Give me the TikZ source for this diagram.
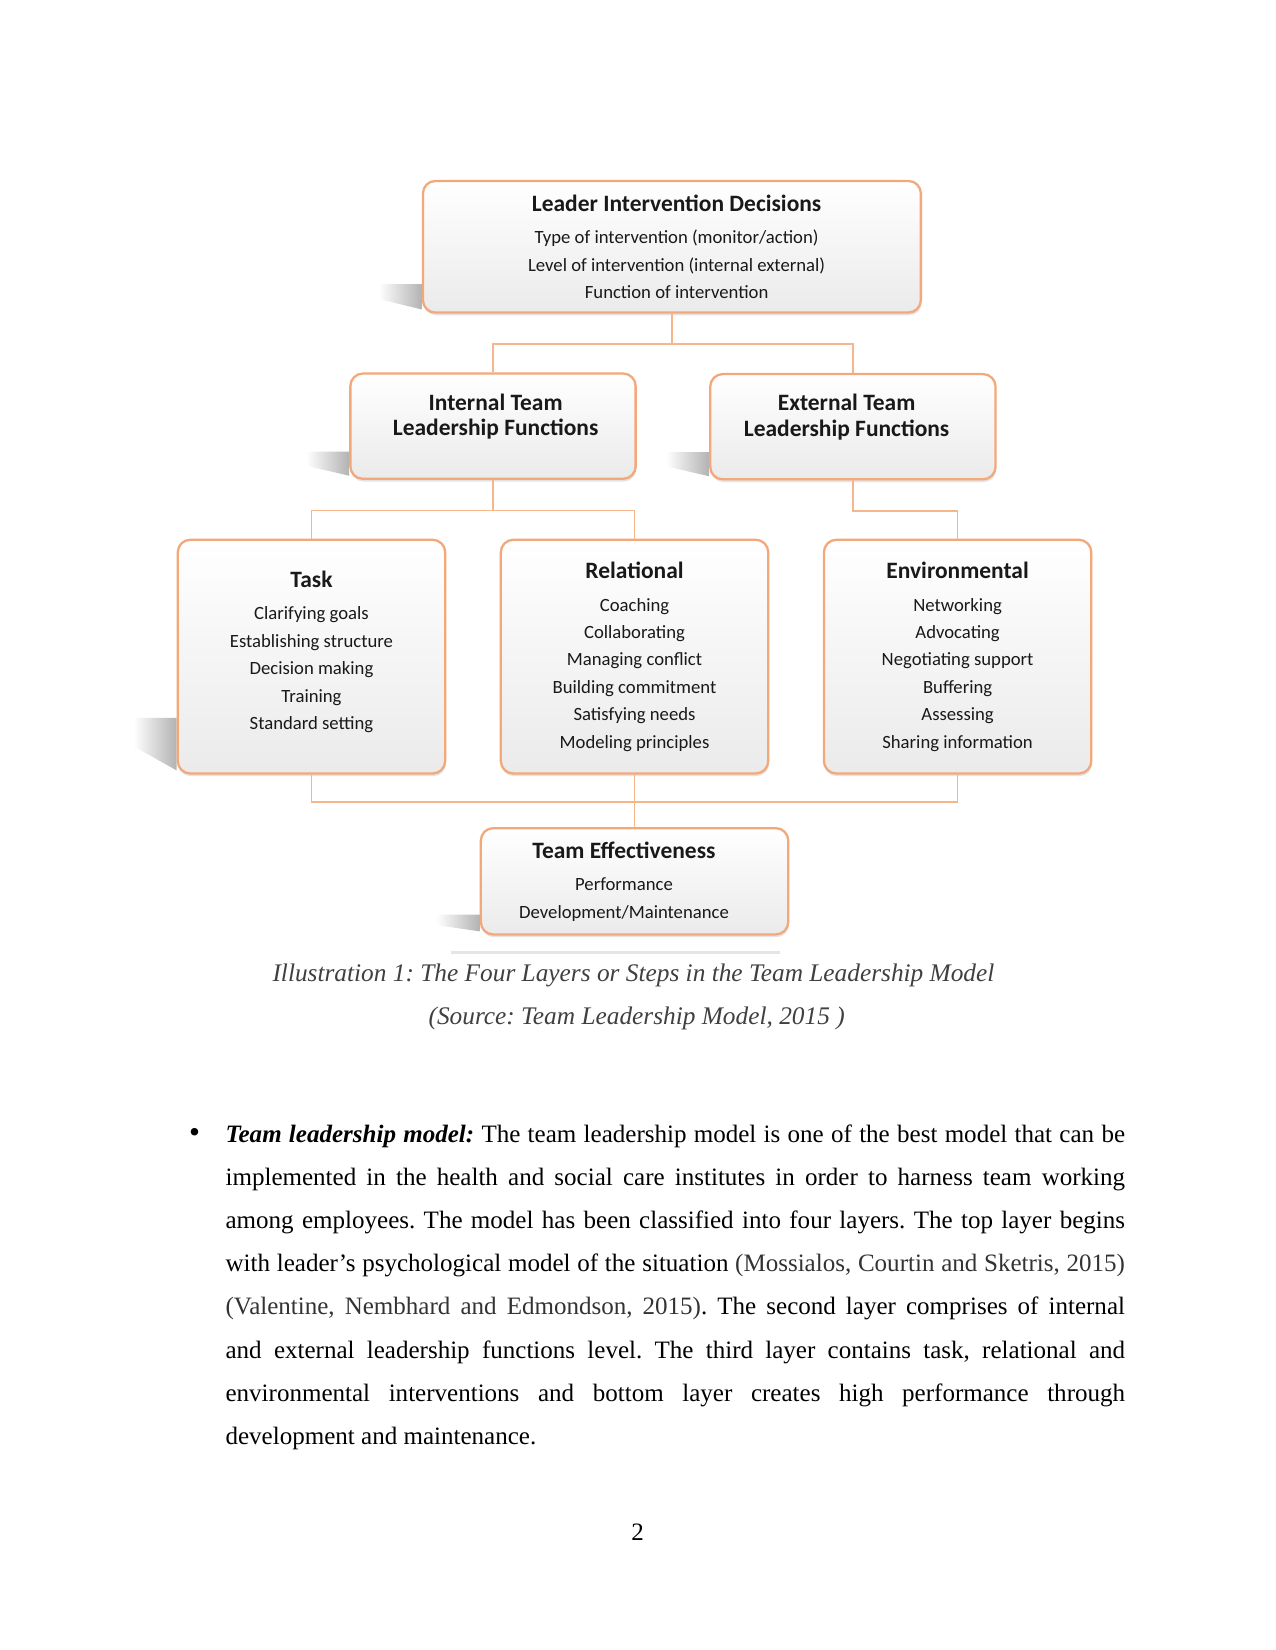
\documentclass[tikz,border=0pt]{standalone}
\usepackage{fontspec}
\setmainfont{Liberation Serif}
\newfontfamily\smartfont{Carlito}
\usepackage{tikz}
\usetikzlibrary{calc, shadows, backgrounds}

\definecolor{boxline}{RGB}{244,168,122}
\definecolor{linkline}{RGB}{246,182,140}
\newcommand\boxhead[1]{{\fontsize{11.3}{13.2}\selectfont\bfseries #1}}

\begin{document}
\begin{tikzpicture}[x=0.0178135cm, y=-0.0178135cm,
  layerbox/.style={draw=boxline, line width=1.1pt, rounded corners=6pt,
    top color=white, bottom color=black!8, inner sep=0pt,
    drop shadow={shadow xshift=0.3pt, shadow yshift=-1.3pt, opacity=0.22}},
  boxtext/.style={align=center, inner sep=0pt, text=black!90,
    font=\smartfont\fontsize{9}{13.2}\selectfont},
  twoline/.style={boxtext, font=\smartfont\fontsize{11.3}{12.2}\selectfont\bfseries},
  link/.style={draw=linkline, line width=0.8pt},
  bodyfont/.style={font=\fontsize{12.05}{20.78}\selectfont}]
  \useasboundingbox (0,0) rectangle (1212,1568);

  % Layer 1
  \node[layerbox, minimum width=8.426cm, minimum height=2.227cm] (lid) at (638.5,234.5) {};
  \node[boxtext] (lid-txt) at ($(lid)+(4.5,0)$)
    {\boxhead{Leader Intervention Decisions}\\[2.5pt]
     Type of intervention (monitor/action)\\
     Level of intervention (internal external)\\
     Function of intervention};

  % Layer 2
  \node[layerbox, minimum width=4.827cm, minimum height=1.781cm] (itlf) at (468.5,405) {};
  \node[twoline] (itlf-txt) at ($(itlf)+(2.5,-9)$) {Internal Team\\Leadership Functions};
  \node[layerbox, minimum width=4.827cm, minimum height=1.781cm] (etlf) at (810.5,405.5) {};
  \node[twoline] (etlf-txt) at ($(etlf)+(-6,-9)$) {External Team\\Leadership Functions};

  % Layer 3
  \node[layerbox, minimum width=4.525cm, minimum height=3.955cm] (task) at (296,624) {};
  \node[boxtext] (task-txt) at ($(task)+(0,-4.5)$)
    {\boxhead{Task}\\[2.5pt]
     Clarifying goals\\ Establishing structure\\ Decision making\\
     Training\\ Standard setting};
  \node[layerbox, minimum width=4.525cm, minimum height=3.955cm] (rel) at (603,624) {};
  \node[boxtext] (rel-txt) at (rel)
    {\boxhead{Relational}\\[2.5pt]
     Coaching\\ Collaborating\\ Managing conflict\\ Building commitment\\
     Satisfying needs\\ Modeling principles};
  \node[layerbox, minimum width=4.525cm, minimum height=3.955cm] (env) at (910,624) {};
  \node[boxtext] (env-txt) at (env)
    {\boxhead{Environmental}\\[2.5pt]
     Networking\\ Advocating\\ Negotiating support\\ Buffering\\
     Assessing\\ Sharing information};

  % Layer 4
  \node[layerbox, minimum width=5.202cm, minimum height=1.799cm] (teff) at (603,837.5) {};
  \node[boxtext] (teff-txt) at ($(teff)+(-10,0)$)
    {\boxhead{Team Effectiveness}\\[2.5pt]
     Performance\\ Development/Maintenance};

  % Connectors
  \draw[link] (lid.south) -- ++(0,29) -| (itlf.north);
  \draw[link] (lid.south) -- ++(0,29) -| (etlf.north);
  \draw[link] (itlf.south) -- ++(0,29) -| (task.north);
  \draw[link] (itlf.south) -- ++(0,29) -| (rel.north);
  \draw[link] (etlf.south) -- ++(0,29) -| (env.north);
  \draw[link] (task.south) -- ++(0,26) -| (env.south);
  \draw[link] (rel.south) -- (teff.north);

  % Shadows behind the boxes
  \begin{scope}[on background layer]
    \fill[white] (0,0) rectangle (1212,1568);
    \foreach \n/\h in {lid/28, itlf/27, etlf/27, task/54, teff/20}
      \shade[left color=white, right color=black!30]
        ($(\n.south west)+(-41,-\h)$) -- ($(\n.south west)+(0,-\h)$) --
        ($(\n.south west)+(0,-4)$) -- ($(\n.south west)+(-41,-0.5*\h)$) -- cycle;
    \draw[black!10, line width=1.5pt] ($(teff.south west)+(-27,16)$) -- ($(teff.south east)+(-9,16)$);
  \end{scope}

  % Caption
  \node[anchor=base, font=\fontsize{12.2}{14}\selectfont\itshape\frenchspacing, text=black!75] (cap1) at (602,933)
    {Illustration 1: The Four Layers or Steps in the Team Leadership Model};
  \node[anchor=base, font=\fontsize{12.2}{14}\selectfont\itshape\frenchspacing, text=black!75] (cap2) at (605,973.5)
    {(Source: Team Leadership Model, 2015 )};

  % Bullet paragraph
  \node[anchor=base, font=\fontsize{15}{16}\selectfont] (dot) at (185,1085.5) {•};
  \node[anchor=base west, inner sep=0pt, bodyfont] (para) at (214,1085.5)
    {\parbox[t]{15.22cm}{\fontsize{12.05}{20.78}\selectfont\frenchspacing
     \textbf{\textit{Team leadership model:}} The team leadership model is one of the best model that can be\linebreak
     implemented in the health and social care institutes in order to harness team working\linebreak
     among employees. The model has been classified into four layers. The top layer begins\linebreak
     with leader's psychological model of the situation {\color{black!80}(Mossialos, Courtin and Sketris, 2015)}\linebreak
     {\color{black!80}(Valentine, Nembhard and Edmondson, 2015)}. The second layer comprises of internal\linebreak
     and external leadership functions level. The third layer contains task, relational and\linebreak
     environmental interventions and bottom layer creates high performance through\linebreak
     development and maintenance.}};

  % Page number
  \node[anchor=base, bodyfont] (pagenum) at (606,1464) {2};
\end{tikzpicture}
\end{document}
